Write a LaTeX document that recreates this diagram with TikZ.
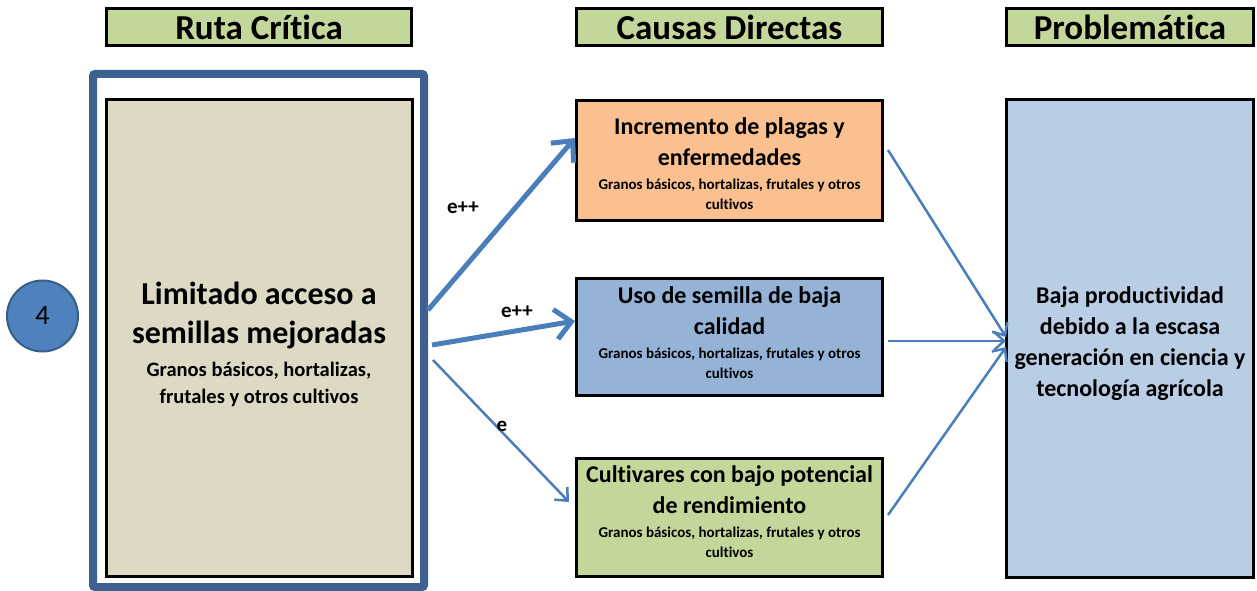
\documentclass[tikz,border=0pt]{standalone}
\usepackage{fontspec}
\setmainfont{Carlito}[Ligatures=NoCommon]
\usetikzlibrary{arrows.meta}
\definecolor{titlegreen}{HTML}{C4D79B}
\definecolor{orangebox}{HTML}{FAC090}
\definecolor{bluebox}{HTML}{95B3D7}
\definecolor{lightblue}{HTML}{B9CDE5}
\definecolor{beige}{HTML}{DDD9C4}
\definecolor{framecol}{HTML}{3D6291}
\definecolor{arrowcol}{HTML}{4A7EBB}
\definecolor{circfill}{HTML}{4F81BD}
\definecolor{circdraw}{HTML}{385D8A}
\tikzset{
  titlebox/.style={draw=black, line width=3pt, fill=titlegreen, minimum height=37pt, inner sep=0pt,
    font=\fontsize{35}{38}\selectfont\bfseries},
  causebox/.style={draw=black, line width=3pt, minimum width=306pt, align=center, inner sep=0pt,
    font=\fontsize{24}{31}\selectfont\bfseries},
  bigbox/.style={draw=black, line width=3pt, align=center, inner sep=0pt},
  thick arrow/.style={draw=arrowcol, line width=5pt, -{Straight Barb[length=16pt,width=30pt]}},
  thin arrow/.style={draw=arrowcol, line width=2.5pt, -{Straight Barb[length=10pt,width=18pt]}},
  lbl/.style={font=\fontsize{21}{23}\selectfont\bfseries, inner sep=0pt},
}
\newcommand{\smalltext}[1]{{\fontsize{15}{19}\selectfont #1}}
\begin{document}
\begin{tikzpicture}[x=1pt,y=-1pt]
\useasboundingbox (0,0) rectangle (1257,591);
% titles
\node[titlebox, minimum width=305pt] (t1) at (259,27.5) {Ruta Crítica};
\node[titlebox, minimum width=306pt] (t2) at (729.5,27.5) {Causas Directas};
\node[titlebox, minimum width=247pt] (t3) at (1130,27.5) {Problemática};
% number circle
\node[circle, fill=circfill, draw=circdraw, line width=2pt, minimum size=71pt, inner sep=0pt,
  font=\fontsize{28}{30}\selectfont] (num) at (42.5,316) {4};
% outer frame
\node[draw=framecol, line width=8pt, rounded corners=2pt, minimum width=331pt, minimum height=513pt, inner sep=0pt] (frame) at (258.5,330.5) {};
% left box
\node[bigbox, fill=beige, minimum width=306pt, minimum height=477pt,
  font=\fontsize{32}{39}\selectfont\bfseries] (left) at (259,338)
  {\rule{0pt}{35pt}Limitado acceso a\\ semillas mejoradas\\[-5.5pt]
   {\fontsize{20.5}{24}\selectfont Granos básicos, hortalizas,}\\[-12pt]
   {\fontsize{20.5}{24}\selectfont frutales y otros cultivos}};
% cause boxes
\node[causebox, fill=orangebox, minimum height=120pt] (c1) at (729.5,160.5)
  {\rule{0pt}{24pt}Incremento de plagas y\\ enfermedades\\[-7.5pt]
   \smalltext{Granos básicos, hortalizas, frutales y otros}\\[-10.5pt]
   \smalltext{cultivos}};
\node[causebox, fill=bluebox, minimum height=117pt] (c2) at (729.5,336.5)
  {Uso de semilla de baja\\ calidad\\[-7.5pt]
   \smalltext{Granos básicos, hortalizas, frutales y otros}\\[-10.5pt]
   \smalltext{cultivos}\rule[-7pt]{0pt}{7pt}};
\node[causebox, fill=titlegreen, minimum height=118pt] (c3) at (729.5,517)
  {Cultivares con bajo potencial\\ de rendimiento\\[-7.5pt]
   \smalltext{Granos básicos, hortalizas, frutales y otros}\\[-10.5pt]
   \smalltext{cultivos}\rule[-10pt]{0pt}{10pt}};
% problem box
\node[bigbox, fill=lightblue, minimum width=247pt, minimum height=477pt,
  font=\fontsize{24}{31}\selectfont\bfseries] (prob) at (1130,338.5)
  {\rule{0pt}{27.5pt}Baja productividad\\ debido a la escasa\\ generación en ciencia y\\ tecnología agrícola};
% arrows from left
\draw[thick arrow] (frame.east |- 0,310) -- (c1.west |- 0,138);
\draw[thick arrow] ([xshift=4pt]frame.east |- 0,345) -- (c2.west |- 0,321);
\draw[thin arrow] ([xshift=5pt]frame.east |- 0,360) -- ([xshift=-6pt]c3.west |- 0,502);
\node[lbl] (l1) at (463,208) {e++};
\node[lbl] (l2) at (517,312) {e++};
\node[lbl] (l3) at (502,426) {e};
% arrows to problem
\draw[thin arrow] ([xshift=4pt]c1.east |- 0,150) -- ([xshift=1pt]prob.west |- 0,337);
\draw[thin arrow] ([xshift=4pt]c2.east |- 0,341) -- ([xshift=1pt]prob.west |- 0,341);
\draw[thin arrow] ([xshift=4pt]c3.east |- 0,515) -- ([xshift=1pt]prob.west |- 0,347);
\end{tikzpicture}
\end{document}
